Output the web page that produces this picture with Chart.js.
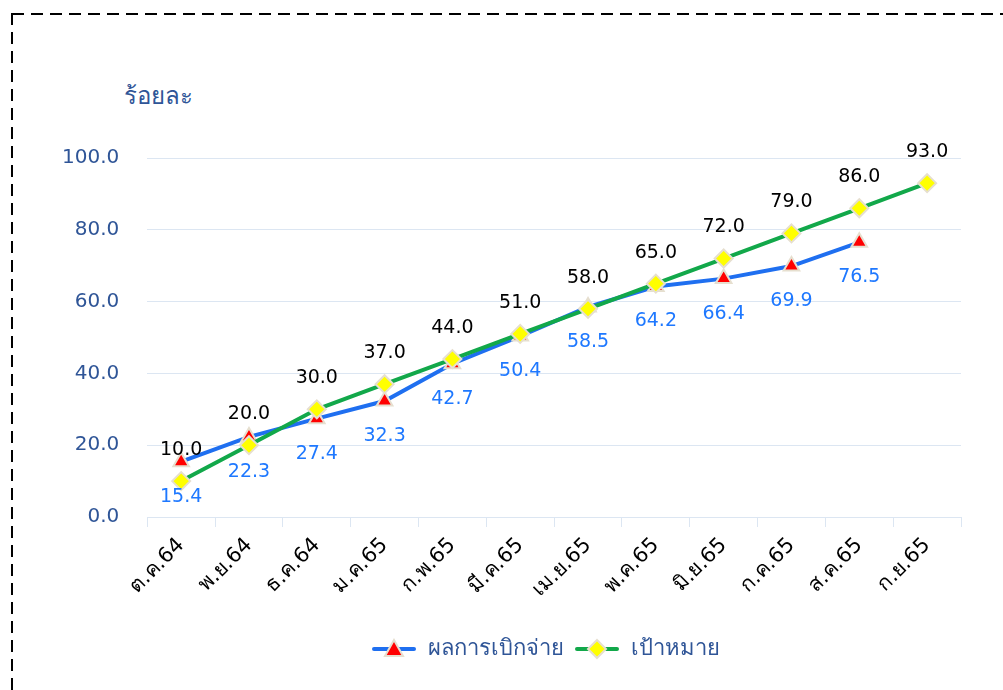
<!DOCTYPE html>
<html>
<head>
<meta charset="utf-8">
<script src="https://cdn.jsdelivr.net/npm/chart.js@4"></script>
<style>
  body { margin: 0; background: #fff; }
  #wrap { position: relative; width: 1003px; height: 690px; overflow: hidden; }
  #top { position: absolute; left: 12px; top: 13px; width: 1000px; height: 2px;
         background: repeating-linear-gradient(to right, #000 0 12px, transparent 12px 19px); }
  #left { position: absolute; left: 11px; top: 13px; width: 2px; height: 690px;
          background: repeating-linear-gradient(to bottom, #000 0 12px, transparent 12px 19px); }
  #ytitle { position: absolute; left: 124px; top: 76px; color: #2f5597;
            font: 24px Tahoma, "DejaVu Sans", sans-serif; }
  canvas { position: absolute; left: 0; top: 0; }
</style>
</head>
<body>
<div id="wrap">
  <div id="top"></div>
  <div id="left"></div>
  <div id="ytitle">ร้อยละ</div>
  <canvas id="chart" width="1003" height="690"></canvas>
</div>
<script>
const months = ["ต.ค.64", "พ.ย.64", "ธ.ค.64", "ม.ค.65", "ก.พ.65", "มี.ค.65",
                "เม.ย.65", "พ.ค.65", "มิ.ย.65", "ก.ค.65", "ส.ค.65", "ก.ย.65"];
const actual = [15.4, 22.3, 27.4, 32.3, 42.7, 50.4, 58.5, 64.2, 66.4, 69.9, 76.5, null];
const target = [10.0, 20.0, 30.0, 37.0, 44.0, 51.0, 58.0, 65.0, 72.0, 79.0, 86.0, 93.0];
const yTicks = [0, 20, 40, 60, 80, 100];

const FONT = 'Tahoma, "DejaVu Sans", sans-serif';
const BLUE = "#1f6ff0";
const GREEN = "#12a84a";

// legend symbol: line with marker in the middle
function legendIcon(color, style, fill) {
    const c = document.createElement("canvas");
    c.width = 46; c.height = 22;
    const g = c.getContext("2d");
    g.strokeStyle = color;
    g.lineWidth = 4;
    g.lineCap = "round";
    g.beginPath(); g.moveTo(3, 11); g.lineTo(43, 11); g.stroke();
    g.fillStyle = fill;
    g.strokeStyle = "#e6dfcf";
    g.lineWidth = 2;
    g.beginPath();
    if (style === "triangle") {
        g.moveTo(23, 2); g.lineTo(32, 18); g.lineTo(14, 18); g.closePath();
    } else {
        g.moveTo(23, 2); g.lineTo(32, 11); g.lineTo(23, 20); g.lineTo(14, 11); g.closePath();
    }
    g.fill(); g.stroke();
    return c;
}

const valueLabels = {
    id: "valueLabels",
    afterDatasetsDraw(chart) {
        const ctx = chart.ctx;
        ctx.save();
        ctx.font = "19px " + FONT;
        ctx.textAlign = "center";
        ctx.textBaseline = "middle";
        chart.data.datasets.forEach((ds, i) => {
            const meta = chart.getDatasetMeta(i);
            meta.data.forEach((pt, j) => {
                const v = ds.data[j];
                if (v === null || v === undefined) return;
                if (i === 0) {
                    ctx.fillStyle = "#1e78ff";
                    ctx.fillText(v.toFixed(1), pt.x, pt.y + 35);
                } else {
                    ctx.fillStyle = "#000";
                    ctx.fillText(v.toFixed(1), pt.x, pt.y - 31);
                }
            });
        });
        ctx.restore();
    }
};

// the legend sits a little right of centre in the original
const legendShift = {
    id: "legendShift",
    afterLayout(chart) {
        if (!chart.legend) return;
        chart.legend.left += 48;
        chart.legend.right += 48;
    }
};

new Chart(document.getElementById("chart"), {
    type: "line",
    data: {
        labels: months,
        datasets: [
            {
                label: "ผลการเบิกจ่าย",
                data: actual,
                borderColor: BLUE,
                borderWidth: 4,
                pointStyle: "triangle",
                pointRadius: 9,
                pointBackgroundColor: "#ff0000",
                pointBorderColor: "#e6dfcf",
                pointBorderWidth: 2,
                order: 1,
            },
            {
                label: "เป้าหมาย",
                data: target,
                borderColor: GREEN,
                borderWidth: 4,
                pointStyle: "rectRot",
                pointRadius: 9,
                pointBackgroundColor: "#ffff00",
                pointBorderColor: "#e6dfcf",
                pointBorderWidth: 2,
                order: 0,
            },
        ],
    },
    options: {
        responsive: false,
        animation: false,
        layout: { padding: { left: 34, right: 42, top: 158, bottom: 20 } },
        scales: {
            x: {
                offset: true,
                afterFit: (axis) => { axis.height = 111; },
                grid: { offset: true, drawOnChartArea: false, drawTicks: true, tickLength: 10, color: "#dce6f2" },
                border: { color: "#dce6f2" },
                ticks: {
                    color: "#000",
                    font: { size: 21, family: FONT },
                    minRotation: 45,
                    maxRotation: 45,
                    padding: 6,
                },
            },
            y: {
                min: 0,
                max: 100,
                afterBuildTicks: (axis) => { axis.ticks = yTicks.map((v) => ({ value: v })); },
                grid: { color: "#dce6f2", drawTicks: false },
                border: { display: false },
                ticks: {
                    color: "#2f5597",
                    font: { size: 20, family: FONT },
                    padding: 28,
                    callback: (v) => Number(v).toFixed(1),
                },
            },
        },
        plugins: {
            legend: {
                position: "bottom",
                labels: {
                    color: "#2f5597",
                    font: { size: 22, family: FONT },
                    usePointStyle: true,
                    pointStyleWidth: 46,
                    boxHeight: 22,
                    padding: 10,
                    generateLabels: (chart) => chart.data.datasets.map((ds, i) => ({
                        text: ds.label,
                        fontColor: "#2f5597",
                        datasetIndex: i,
                        pointStyle: i === 0 ? legendIcon(BLUE, "triangle", "#ff0000") : legendIcon(GREEN, "diamond", "#ffff00"),
                    })),
                },
            },
            tooltip: { enabled: false },
        },
    },
    plugins: [valueLabels, legendShift],
});
</script>
</body>
</html>
